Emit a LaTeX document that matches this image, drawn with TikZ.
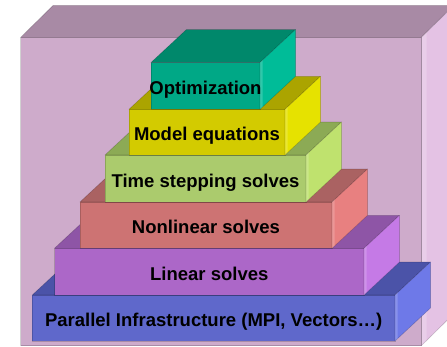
\documentclass[tikz,border=0pt]{standalone}
\usepackage{fontspec}
\setmainfont{Liberation Sans}

% face colours: top / front / side for every block
\definecolor{casetop}{HTML}{A88AA5}
\definecolor{casefront}{HTML}{CEABCB}
\definecolor{caseside}{HTML}{E4C2E4}
\definecolor{opttop}{HTML}{00886B}
\definecolor{optfront}{HTML}{00A886}
\definecolor{optside}{HTML}{00BC98}
\definecolor{modtop}{HTML}{ABA400}
\definecolor{modfront}{HTML}{D3CB00}
\definecolor{modside}{HTML}{E6E200}
\definecolor{timtop}{HTML}{8CAA55}
\definecolor{timfront}{HTML}{ABCB6D}
\definecolor{timside}{HTML}{BFE26E}
\definecolor{nontop}{HTML}{AA6262}
\definecolor{nonfront}{HTML}{CD7373}
\definecolor{nonside}{HTML}{E88080}
\definecolor{lintop}{HTML}{8E55A6}
\definecolor{linfront}{HTML}{AC67C8}
\definecolor{linside}{HTML}{C57AE6}
\definecolor{partop}{HTML}{4B53A8}
\definecolor{parfront}{HTML}{5F68CB}
\definecolor{parside}{HTML}{6E79E8}

% depth of the oblique projection
\newcommand\depx{35.5}
\newcommand\depy{33}

% one block: #1 name, #2 left, #3 right, #4 top, #5 bottom, #6 colour prefix, #7 text
\newcommand\stackslab[7]{%
  \node[frontface, fill=#6front, minimum width={(#3-#2)*1pt},
        minimum height={(#5-#4)*1pt}] (#1) at ({(#2+#3)/2},{(#4+#5)/2}) {};
  \path[faceedge, fill=#6top] (#1.north west) -- ++(\depx,-\depy)
     -- ([shift={(\depx,-\depy)}]#1.north east) -- (#1.north east) -- cycle;
  \path[faceedge, fill=#6side] (#1.north east) -- ++(\depx,-\depy)
     -- ([shift={(\depx,-\depy)}]#1.south east) -- (#1.south east) -- cycle;
  \fill[white, opacity=0.18] (#1.north east) -- ++(2.5,-2.3)
     -- ([shift={(2.5,-2.3)}]#1.south east) -- (#1.south east) -- cycle;
  \node[slablabel] (#1-label) at ([yshift=14.7pt]#1.south) {#7};
}

\begin{document}
\begin{tikzpicture}[x=1pt, y=-1pt,
  frontface/.style={rectangle, inner sep=0pt, outer sep=0pt,
    draw=black, draw opacity=0.18, line width=0.6pt},
  faceedge/.style={draw=black, draw opacity=0.18, line width=0.6pt,
    line join=round},
  slablabel/.style={anchor=base, inner sep=0pt,
    font=\fontsize{18.5}{22}\selectfont\bfseries, text=black}]

\useasboundingbox (0,0) rectangle (447,346);
\clip (0,0) rectangle (447,346);

% enclosing case
\coordinate (case-nw) at (20.7,37.3);
\coordinate (case-ne) at (421.5,37.3);
\coordinate (case-se) at (421.5,345.5);
\coordinate (case-sw) at (20.7,345.5);
\path[faceedge, fill=casefront] (case-nw) -- (case-ne) -- (case-se) -- (case-sw) -- cycle;
\path[faceedge, fill=casetop] (case-nw) -- ++(32.5,-32) -- ([shift={(32.5,-32)}]case-ne)
   -- (case-ne) -- cycle;
\path[faceedge, fill=caseside] (case-ne) -- ++(32.5,-32) -- ([shift={(32.5,-32)}]case-se)
   -- (case-se) -- cycle;
\fill[white, opacity=0.2] (case-ne) -- ++(5,-4.9) -- ([shift={(5,-4.9)}]case-se)
   -- (case-se) -- cycle;

% the stack, from the base up
\stackslab{par}{32.3}{395}{295}{341}{par}{Parallel Infrastructure (MPI, Vectors\dots)}
\stackslab{lin}{54.5}{364}{248.3}{295}{lin}{Linear solves}
\stackslab{non}{80}{332}{202}{248.3}{non}{Nonlinear solves}
\stackslab{tim}{105}{306}{155}{202}{tim}{Time stepping solves}
\stackslab{mod}{129}{285}{109.3}{155}{mod}{Model equations}
\stackslab{opt}{151}{260}{62.5}{109.3}{opt}{Optimization}

\end{tikzpicture}
\end{document}
